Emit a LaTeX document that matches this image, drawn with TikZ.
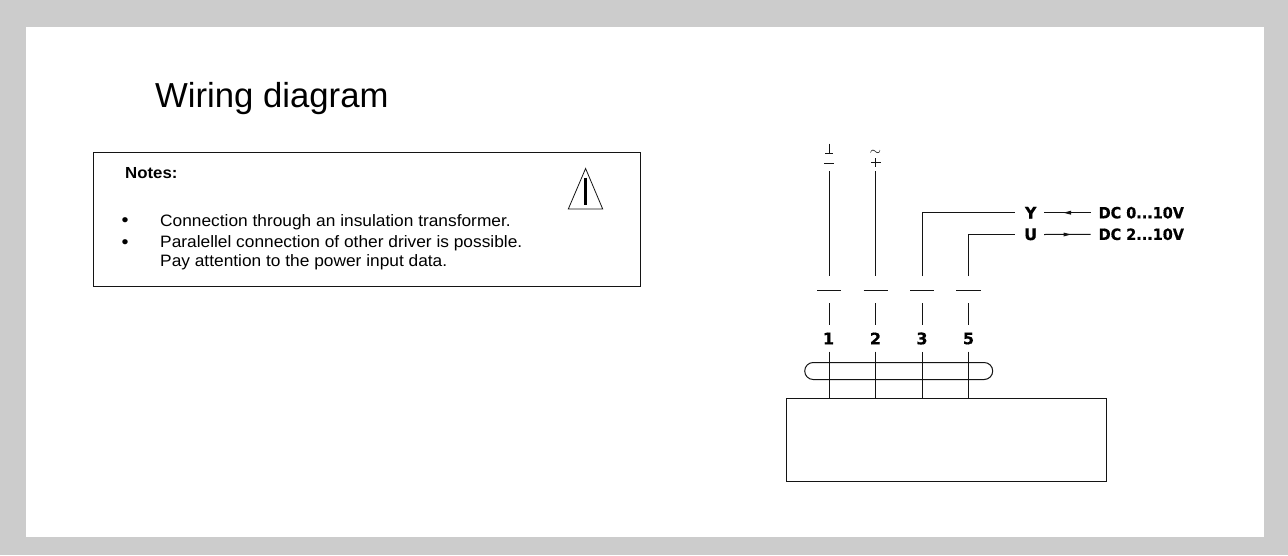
\documentclass[tikz,border=0pt]{standalone}
\usepackage{fontspec}
\setmainfont{Liberation Sans}
\newfontfamily\notefont[FakeStretch=1.05]{Liberation Sans}
\newfontfamily\wirefont[FakeStretch=0.93,FakeBold=0.5]{DejaVu Sans}
\newfontfamily\digitfont[FakeBold=0.5]{DejaVu Sans}
\definecolor{frame}{gray}{0.8}
\definecolor{ink}{gray}{0.08}
\tikzset{
  wire/.style={draw=ink,line width=1pt},
  gwire/.style={draw=ink,line width=1pt},
  boxline/.style={draw=ink,line width=1pt,outer sep=0pt},
  lab/.style={inner sep=0pt,text=black},
  term/.style={lab,font=\digitfont\bfseries\fontsize{16}{16}\selectfont},
  sig/.style={lab,font=\wirefont\bfseries\fontsize{15.5}{16}\selectfont,anchor=west},
  note/.style={lab,anchor=base west,font=\notefont\fontsize{16.5}{18}\selectfont}
}
\begin{document}
\begin{tikzpicture}[x=1pt,y=-1pt]
\useasboundingbox (0,0) rectangle (1288,555);
\fill[frame] (0,0) rectangle (1288,555);
\fill[white] (26,27) rectangle (1264,537);
\node[lab,anchor=base west,font=\fontsize{34.7}{36}\selectfont] (title) at (155,107) {Wiring diagram};
\node[boxline,draw,minimum width=547pt,minimum height=133.5pt,inner sep=0pt,anchor=north west] (notes) at (93.5,152.5) {};
\node[note,font=\notefont\bfseries\fontsize{16}{18}\selectfont] (nh) at (125,178.5) {Notes:};
\node[note,font=\notefont\fontsize{19}{18}\selectfont] (b1) at (121.3,226.5) {•};
\node[note,font=\notefont\fontsize{19}{18}\selectfont] (b2) at (121.3,248) {•};
\node[note] (t1) at (160,226) {Connection through an insulation transformer.};
\node[note] (t2) at (160,247) {Paralellel connection of other driver is possible.};
\node[note] (t3) at (160,266) {Pay attention to the power input data.};
\draw[line width=0.8pt,draw=ink] (585.6,168.5) -- (602.7,209) -- (568.3,209) -- cycle;
\draw[line width=2.7pt,draw=black] (585.5,177.5) -- (585.5,204.5);
% supply symbols
\draw[gwire] (825,153) -- (833,153) (829,143.5) -- (829,153) (824,163) -- (834,163);
\node[lab,font=\fontsize{15}{15}\selectfont] (tilde) at (875.5,152.5) {$\sim$};
\draw[wire] (871,162.5) -- (880.5,162.5) (875.5,158) -- (875.5,167);
% wires
\coordinate (w1t) at (829,171); \coordinate (w2t) at (875.5,171);
\coordinate (w1b) at (829,276); \coordinate (w2b) at (875.5,276);
\coordinate (w3b) at (922,276); \coordinate (w5b) at (968.5,276);
\coordinate (ye) at (1015,212); \coordinate (ue) at (1015,234.5);
\draw[gwire] (w1t) -- (w1b);
\draw[wire] (w2t) -- (w2b);
\draw[gwire] (w3b) |- (ye);
\draw[wire] (w5b) |- (ue);
\draw[gwire] (817,290) -- (841,290) (863.5,290) -- (888,290) (910,290) -- (934,290) (956,290) -- (981,290);
\draw[gwire] (829,303) -- (829,325);
\draw[wire] (875.5,303) -- (875.5,325);
\draw[gwire] (922,303) -- (922,325);
\draw[wire] (968.5,303) -- (968.5,325);
\node[term] (n1) at (828.5,338.5) {1};
\node[term] (n2) at (875.5,338.5) {2};
\node[term] (n3) at (922,338.5) {3};
\node[term] (n5) at (968.5,338.5) {5};
\node[boxline,draw,rounded corners=8.5pt,minimum width=188pt,minimum height=17pt,inner sep=0pt,anchor=north west] (cap) at (804.7,362.5) {};
\node[boxline,draw,minimum width=320pt,minimum height=83.5pt,inner sep=0pt,anchor=north west] (dev) at (786.5,398) {};
\draw[gwire] (n1.south) ++(0.5,7) -- (829,398);
\draw[wire] (n2.south) ++(0,7) -- (875.5,398);
\draw[gwire] (n3.south) ++(0,7) -- (922,398);
\draw[wire] (n5.south) ++(0,7) -- (968.5,398);
% signals
\node[term] (y) at (1030.7,212.7) {Y};
\node[term] (u) at (1030.7,234.3) {U};
\node[sig] (dy) at (1098.5,212.7) {DC 0...10V};
\node[sig] (du) at (1098.5,234.3) {DC 2...10V};
\draw[gwire] (dy.west) ++(-8,0) -- (1044,212.7);
\draw[wire] (du.west) ++(-8,0) -- (1044,234.5);
\fill[ink] (1063.5,212.7) -- (1071,210.7) -- (1071,214.7) -- cycle;
\fill[ink] (1071,234.5) -- (1063.5,232.5) -- (1063.5,236.5) -- cycle;
\end{tikzpicture}
\end{document}
